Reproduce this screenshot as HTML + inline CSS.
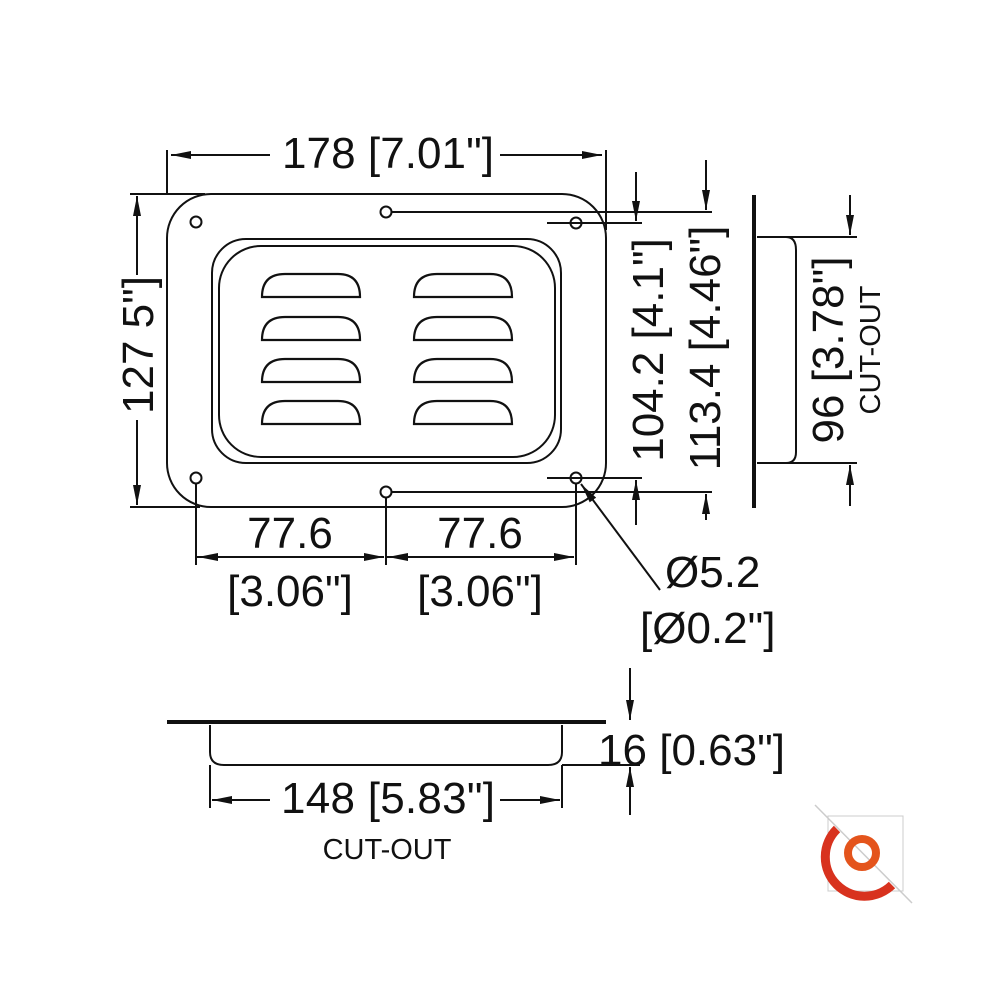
<!DOCTYPE html><html><head><style>body{margin:0;background:#fff}svg{display:block}text{font-family:"Liberation Sans",sans-serif;fill:#111}</style></head><body>
<svg width="1000" height="1000" viewBox="0 0 1000 1000" xmlns="http://www.w3.org/2000/svg">
<defs><marker id="a" viewBox="0 0 20 8" refX="20" refY="4" markerWidth="20" markerHeight="8" markerUnits="userSpaceOnUse" orient="auto"><path d="M0,0L20,4L0,8z" fill="#111"/></marker></defs>
<g fill="none" stroke="#111" stroke-width="2">
<rect x="167" y="194" width="439" height="313" rx="44"/>
<rect x="212" y="239" width="349" height="224" rx="34"/>
<rect x="219" y="246" width="336" height="211" rx="42"/>
<g stroke-width="2.2">
<path d="M262,297 Q262,274 285,274 L338,274 Q360,274 360,297 Z"/><path d="M414,297 Q414,274 437,274 L490,274 Q512,274 512,297 Z"/>
<path d="M262,340 Q262,317 285,317 L338,317 Q360,317 360,340 Z"/><path d="M414,340 Q414,317 437,317 L490,317 Q512,317 512,340 Z"/>
<path d="M262,382 Q262,359 285,359 L338,359 Q360,359 360,382 Z"/><path d="M414,382 Q414,359 437,359 L490,359 Q512,359 512,382 Z"/>
<path d="M262,424 Q262,401 285,401 L338,401 Q360,401 360,424 Z"/><path d="M414,424 Q414,401 437,401 L490,401 Q512,401 512,424 Z"/>
</g>
<circle cx="196" cy="222" r="5.5"/><circle cx="386" cy="212" r="5.5"/><circle cx="576" cy="223" r="5.5"/>
<circle cx="196" cy="478" r="5.5"/><circle cx="386" cy="492" r="5.5"/><circle cx="576" cy="478" r="5.5"/>
<path d="M392,212H712M547,223H642M547,478H642M392,492H712"/>
<path d="M167,150V194M606,150V230M130,194H205M130,507H200M196,484V565M386,498V565M576,484V565"/>
<path d="M270,155H171" marker-end="url(#a)"/>
<path d="M500,155H602" marker-end="url(#a)"/>
<path d="M137,275V196" marker-end="url(#a)"/><path d="M137,420V505" marker-end="url(#a)"/>
<path d="M636,172V221" marker-end="url(#a)"/><path d="M636,525V480" marker-end="url(#a)"/>
<path d="M706,160V210" marker-end="url(#a)"/><path d="M706,520V494" marker-end="url(#a)"/>
<path d="M196,557H384" marker-end="url(#a)"/><path d="M384,557H198" marker-end="url(#a)"/>
<path d="M386,557H574" marker-end="url(#a)"/><path d="M574,557H388" marker-end="url(#a)"/>
<path d="M660,590L581,484" marker-end="url(#a)"/>
<path d="M754,195V508" stroke-width="4"/>
<path d="M757,237H786Q796,237 796,250V452Q796,463 786,463H757M757,237H857M757,463H857"/>
<path d="M850,195V235" marker-end="url(#a)"/><path d="M850,506V465" marker-end="url(#a)"/>
<path d="M167,722H606" stroke-width="4"/>
<path d="M210,725V752Q210,765 224,765H548Q562,765 562,752V725"/>
<path d="M210,765V808M562,765V808M562,765H640"/>
<path d="M270,800H212" marker-end="url(#a)"/><path d="M500,800H560" marker-end="url(#a)"/>
<path d="M630,668V720" marker-end="url(#a)"/><path d="M630,815V767" marker-end="url(#a)"/>
</g>
<g font-size="44">
<text x="388" y="168" text-anchor="middle" textLength="212">178 [7.01"]</text>
<text transform="translate(153,345) rotate(-90)" text-anchor="middle">127 5"]</text>
<text transform="translate(663,350) rotate(-90)" text-anchor="middle">104.2 [4.1"]</text>
<text transform="translate(720,348) rotate(-90)" text-anchor="middle">113.4 [4.46"]</text>
<text transform="translate(843,350) rotate(-90)" text-anchor="middle">96 [3.78"]</text>
<text x="290" y="548" text-anchor="middle">77.6</text>
<text x="290" y="606" text-anchor="middle">[3.06"]</text>
<text x="480" y="548" text-anchor="middle">77.6</text>
<text x="480" y="606" text-anchor="middle">[3.06"]</text>
<text x="665" y="587" >Ø5.2</text>
<text x="640" y="643">[Ø0.2"]</text>
<text x="598" y="765" textLength="187">16 [0.63"]</text>
<text x="388" y="813" text-anchor="middle" textLength="214">148 [5.83"]</text>
</g>
<text transform="translate(880,350) rotate(-90)" font-size="29" text-anchor="middle">CUT-OUT</text>
<text x="387" y="859" font-size="29" text-anchor="middle">CUT-OUT</text>
<g>
<rect x="828" y="816" width="75" height="75" fill="none" stroke="#ccc" stroke-width="1"/>
<path d="M815,805L912,903" stroke="#ccc" stroke-width="1.5"/>
<path d="M837,829A38,38 0 0 0 892,885" fill="none" stroke="#d8321e" stroke-width="9"/>
<circle cx="862" cy="853" r="14" fill="none" stroke="#e4541c" stroke-width="8"/>
</g>
</svg></body></html>
